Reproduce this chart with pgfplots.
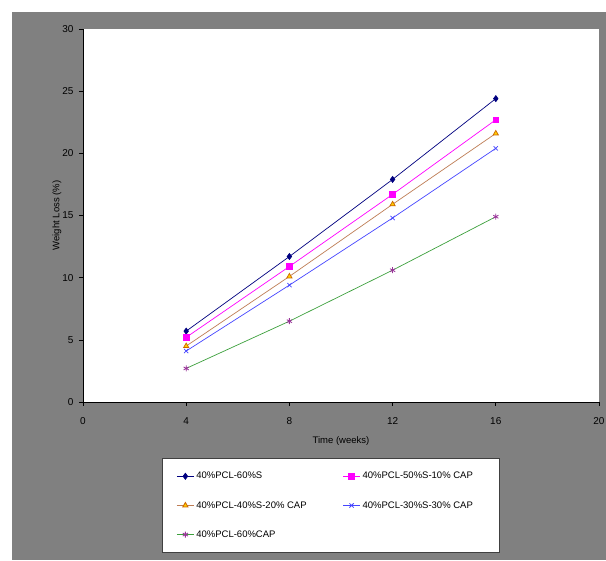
\documentclass[border=0pt]{standalone}
\usepackage{pgfplots}
\pgfplotsset{compat=1.18}
\usepackage{fontspec}
\setmainfont{Liberation Sans}

\definecolor{bggray}{RGB}{128,128,128}
\definecolor{sOne}{RGB}{0,0,128}
\definecolor{sTwo}{RGB}{255,0,255}
\definecolor{sThreeLine}{RGB}{190,125,85}
\definecolor{sThreeFill}{RGB}{255,204,0}
\definecolor{sThreeDraw}{RGB}{204,102,0}
\definecolor{sFour}{RGB}{70,70,255}
\definecolor{sFiveLine}{RGB}{60,160,60}
\definecolor{sFiveMark}{RGB}{153,51,153}

\begin{document}
\begin{tikzpicture}
\useasboundingbox (0,0) rectangle (606pt,561pt);
\fill[bggray] (12pt,1pt) rectangle (606pt,549pt);
\begin{axis}[
  at={(83pt,159pt)}, anchor=south west,
  scale only axis, width=516pt, height=373pt,
  xmin=0, xmax=20, ymin=0, ymax=30,
  xtick={0,4,...,20}, ytick={0,5,...,30},
  axis x line*=bottom, axis y line*=left,
  axis line style={black, line width=0.6pt},
  tick style={black, line width=0.6pt},
  tick align=outside, major tick length=4pt,
  axis background/.style={fill=white},
  /pgf/number format/assume math mode=true,
  tick label style={font=\fontsize{10}{12}\selectfont},
  xticklabel style={yshift=-8pt},
  yticklabel style={xshift=-2pt},
  xlabel={Time (weeks)}, ylabel={Weight Loss (\%)},
  label style={font=\fontsize{9.5}{11}\selectfont},
  xlabel style={at={(axis description cs:0.5,-0.1046)}, anchor=center},
  ylabel style={at={(axis description cs:-0.0505,0.5)}, anchor=center, rotate=0},
  legend columns=2,
  legend cell align=left,
  legend style={
    at={(axis description cs:0.1534,-0.150)}, anchor=north west,
    draw=black!75, fill=white, line width=0.6pt,
    font=\fontsize{9.5}{11}\selectfont,
    inner xsep=14pt, inner ysep=12pt,
    row sep=17pt,
    /tikz/every even column/.append style={column sep=34pt},
  },
  legend image post style={line width=0.8pt},
]
\addplot[color=sOne, line width=0.7pt, mark=diamond*, mark size=3pt, mark options={fill=sOne, draw=sOne}]
  coordinates {(4,5.7) (8,11.7) (12,17.9) (16,24.4)};
\addlegendentry{40\%PCL-60\%S}
\addplot[color=sTwo, line width=0.7pt, mark=square*, mark size=2.8pt, mark options={fill=sTwo, draw=sTwo}]
  coordinates {(4,5.2) (8,10.9) (12,16.7) (16,22.7)};
\addlegendentry{40\%PCL-50\%S-10\% CAP\hspace*{10pt}}
\addplot[color=sThreeLine, line width=0.7pt, mark=triangle*, mark size=3pt, mark options={fill=sThreeFill, draw=sThreeDraw}]
  coordinates {(4,4.5) (8,10.1) (12,15.9) (16,21.6)};
\addlegendentry{40\%PCL-40\%S-20\% CAP}
\addplot[color=sFour, line width=0.7pt, mark=x, mark size=3pt, mark options={draw=sFour}]
  coordinates {(4,4.1) (8,9.4) (12,14.8) (16,20.4)};
\addlegendentry{40\%PCL-30\%S-30\% CAP\hspace*{10pt}}
\addplot[color=sFiveLine, line width=0.7pt, mark=asterisk, mark size=3pt, mark options={draw=sFiveMark, line width=0.8pt}]
  coordinates {(4,2.7) (8,6.5) (12,10.6) (16,14.9)};
\addlegendentry{40\%PCL-60\%CAP}
\end{axis}
\end{tikzpicture}
\end{document}
